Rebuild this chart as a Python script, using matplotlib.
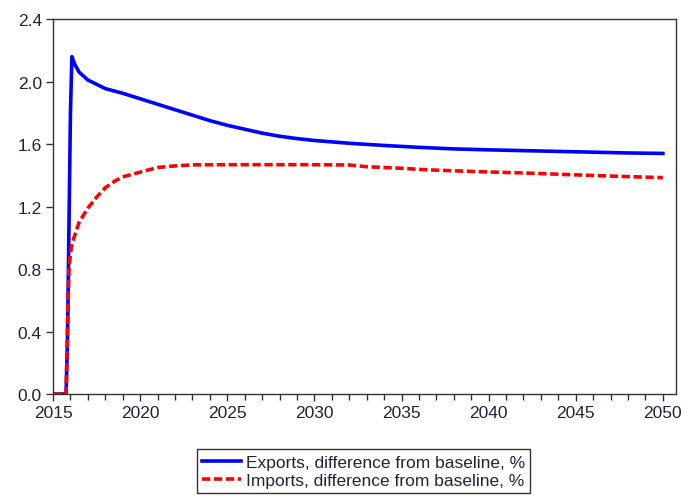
import matplotlib
matplotlib.use("Agg")
import matplotlib.pyplot as plt
import matplotlib.ticker as mticker

plt.rcParams["font.family"] = ["Liberation Sans", "DejaVu Sans"]

# values (decimal years, % difference from baseline)
exp_t = [2015.0, 2015.75, 2015.833, 2015.917, 2016.0, 2016.083, 2016.25, 2016.5,
         2017.0, 2018.0, 2019.0, 2020.0, 2021.0, 2022.0, 2023.0, 2024.0, 2025.0,
         2026.0, 2027.0, 2028.0, 2029.0, 2030.0, 2032.0, 2034.0, 2036.0, 2038.0,
         2040.0, 2042.0, 2044.0, 2046.0, 2048.0, 2050.0]
exp_v = [0.0, 0.0, 0.36, 1.09, 1.80, 2.16, 2.11, 2.06,
         2.01, 1.955, 1.925, 1.89, 1.855, 1.82, 1.785, 1.75, 1.72,
         1.695, 1.67, 1.65, 1.635, 1.623, 1.605, 1.591, 1.579, 1.569,
         1.563, 1.558, 1.553, 1.548, 1.543, 1.54]

imp_t = [2015.0, 2015.75, 2015.833, 2015.917, 2016.0, 2016.083, 2016.5, 2017.0,
         2017.5, 2018.0, 2018.5, 2019.0, 2020.0, 2021.0, 2022.0, 2023.0, 2025.0,
         2030.0, 2032.0, 2033.0, 2035.0, 2036.5, 2039.5, 2042.0, 2044.5, 2047.0,
         2050.0]
imp_v = [0.0, 0.0, 0.45, 0.80, 0.90, 0.96, 1.10, 1.19,
         1.26, 1.32, 1.36, 1.39, 1.42, 1.45, 1.46, 1.467, 1.468,
         1.468, 1.466, 1.455, 1.445, 1.435, 1.423, 1.415, 1.405, 1.395,
         1.385]

fig = plt.figure(figsize=(6.94, 5.02), dpi=100)
ax = fig.add_axes([0.0764, 0.2131, 0.8976, 0.7469])

ax.plot(exp_t, exp_v, color="#0000FF", linewidth=2.6,
        label="Exports, difference from baseline, %")
ax.plot(imp_t, imp_v, color="#FF0000", linewidth=2.6, linestyle=(0, (2.3, 1.0)),
        label="Imports, difference from baseline, %")

ax.set_xlim(2015, 2050.75)
ax.set_ylim(0, 2.4)
ax.xaxis.set_major_locator(mticker.MultipleLocator(5))
ax.xaxis.set_minor_locator(mticker.MultipleLocator(1))
ax.yaxis.set_major_locator(mticker.MultipleLocator(0.4))
ax.yaxis.set_major_formatter(mticker.FormatStrFormatter("%.1f"))
ax.tick_params(axis="both", which="major", labelsize=12.5, length=5, width=1,
               colors="#333333", labelcolor="#22223a", direction="out", pad=3)
ax.tick_params(axis="x", which="minor", length=4, width=1, color="#333333",
               direction="out")
for sp in ax.spines.values():
    sp.set_color("#333333")
    sp.set_linewidth(1)

fig.legend(loc="upper center", bbox_to_anchor=(0.524, 0.103), fontsize=12.5,
           frameon=True, fancybox=False, edgecolor="#333333", framealpha=1,
           handlelength=2.2, handletextpad=0.3, borderpad=0.3, labelspacing=0.2,
           borderaxespad=0, labelcolor="#22223a")

plt.savefig("out.png", dpi=100)
